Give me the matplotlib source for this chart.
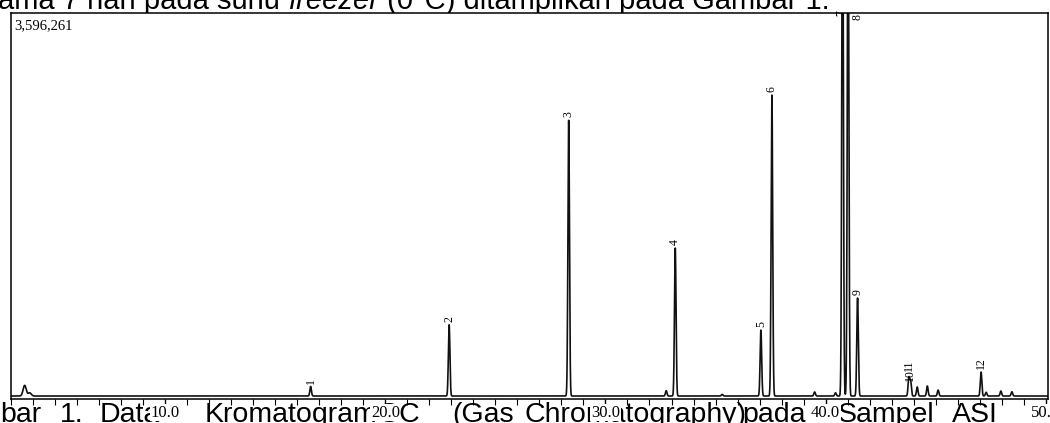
import numpy as np
import matplotlib
matplotlib.use('Agg')
import matplotlib.pyplot as plt

# retention times (min), peak heights (counts), peak labels
rt = [3.62, 3.85, 16.61, 22.90, 28.33, 32.76, 33.17, 35.30, 37.06, 37.56,
      39.50, 40.45, 40.77, 41.02, 41.45, 43.78, 43.86, 44.16, 44.62, 45.11,
      47.06, 47.29, 47.96, 48.46]
height = [100000, 30000, 90000, 670000, 2590000, 50000, 1390000, 15000, 620000, 2830000,
          38000, 30000, 5200000, 4900000, 920000, 170000, 140000, 85000, 94000, 56000,
          225000, 35000, 47000, 40000]
labels = ['', '', '1', '2', '3', '', '4', '', '5', '6',
          '', '', '7', '8', '9', '10', '11', '', '', '',
          '12', '', '', '']

ymax = 3596261
xmin, xmax = 3.0, 50.1

# caption words around the chart (cut by the crop), start x in pixels
cap_words = ['bar', '1.', 'Data', 'Kromatogram', 'GC', '(Gas', 'Chromatography)',
             'pada', 'Sampel', 'ASI']
cap_x = [0, 60, 100, 205, 378, 452, 525, 742, 838, 952]

t = np.linspace(xmin, xmax, 8000)
sig = np.where(np.array(rt) < 4, 0.07, 0.035)
trace = np.zeros_like(t)
for r, h, s in zip(rt, height, sig):
    trace += h * np.exp(-0.5 * ((t - r) / s) ** 2)

fig = plt.figure(figsize=(10.5, 4.23), dpi=100)
ax = fig.add_axes([11 / 1050, 24 / 423, 1037 / 1050, 386 / 423])
ax.plot(t, trace, color='#111111', lw=1.2)
ax.set_xlim(xmin, xmax)
ax.set_ylim(-28000, ymax)
ax.set_yticks([])
ax.set_xticks([10, 20, 30, 40, 50])
ax.set_xticklabels(['10.0', '20.0', '30.0', '40.0', '50.0'],
                   family='Liberation Serif', fontsize=12)
ax.set_xticks(np.arange(3, 50), minor=True)
ax.tick_params(axis='x', which='major', length=7, width=1, pad=-3)
ax.tick_params(axis='x', which='minor', length=4, width=0.8)
for lab in ax.get_xticklabels():
    lab.set_bbox(dict(facecolor='white', edgecolor='none', pad=0.5))
for sp in ax.spines.values():
    sp.set_linewidth(1.1)

ax.text(0.003, 0.985, '3,596,261', transform=ax.transAxes, ha='left', va='top',
        family='Liberation Serif', fontsize=10.5)

# peak numbers
lab_kw = dict(textcoords='offset points', rotation=90, ha='center', fontsize=8.5,
              family='Liberation Serif')
for r, h, lab in zip(rt, height, labels):
    if not lab:
        continue
    if lab == '7':
        ax.annotate(lab, (r, ymax), xytext=(-1, 0), va='center',
                    annotation_clip=False, **lab_kw)
    elif lab == '8':
        ax.annotate(lab, (r, ymax), xytext=(7, -1), va='top',
                    annotation_clip=False, **lab_kw)
    elif lab == '11':
        ax.annotate(lab, (r, h), xytext=(-1, 7), va='bottom', **lab_kw)
    elif lab == '10':
        ax.annotate(lab, (r, h), xytext=(1, -2), va='bottom', **lab_kw)
    else:
        ax.annotate(lab, (r, h), xytext=(0, 2), va='bottom', **lab_kw)

# surrounding document text (cut off by the crop)
for w, px in zip(cap_words, cap_x):
    fig.text(px / 1050, 0.002, w, ha='left', va='baseline', family='Liberation Sans',
             fontsize=20.5, zorder=-1)

fig.canvas.draw()
r = fig.canvas.get_renderer()
ytop = 1 - 9 / 423
x0 = -0.002
parts = [('ama 7 hari pada suhu ', 'normal'), ('freezer', 'italic'),
         (' (0°C) ditampilkan pada Gambar 1.', 'normal')]
for s, st in parts:
    tx = fig.text(x0, ytop, s, ha='left', va='baseline', family='Liberation Sans',
                  fontsize=21, style=st, zorder=-1)
    bb = tx.get_window_extent(renderer=r)
    x0 += bb.width / fig.bbox.width

fig.savefig('out.png', dpi=100, facecolor='white')
